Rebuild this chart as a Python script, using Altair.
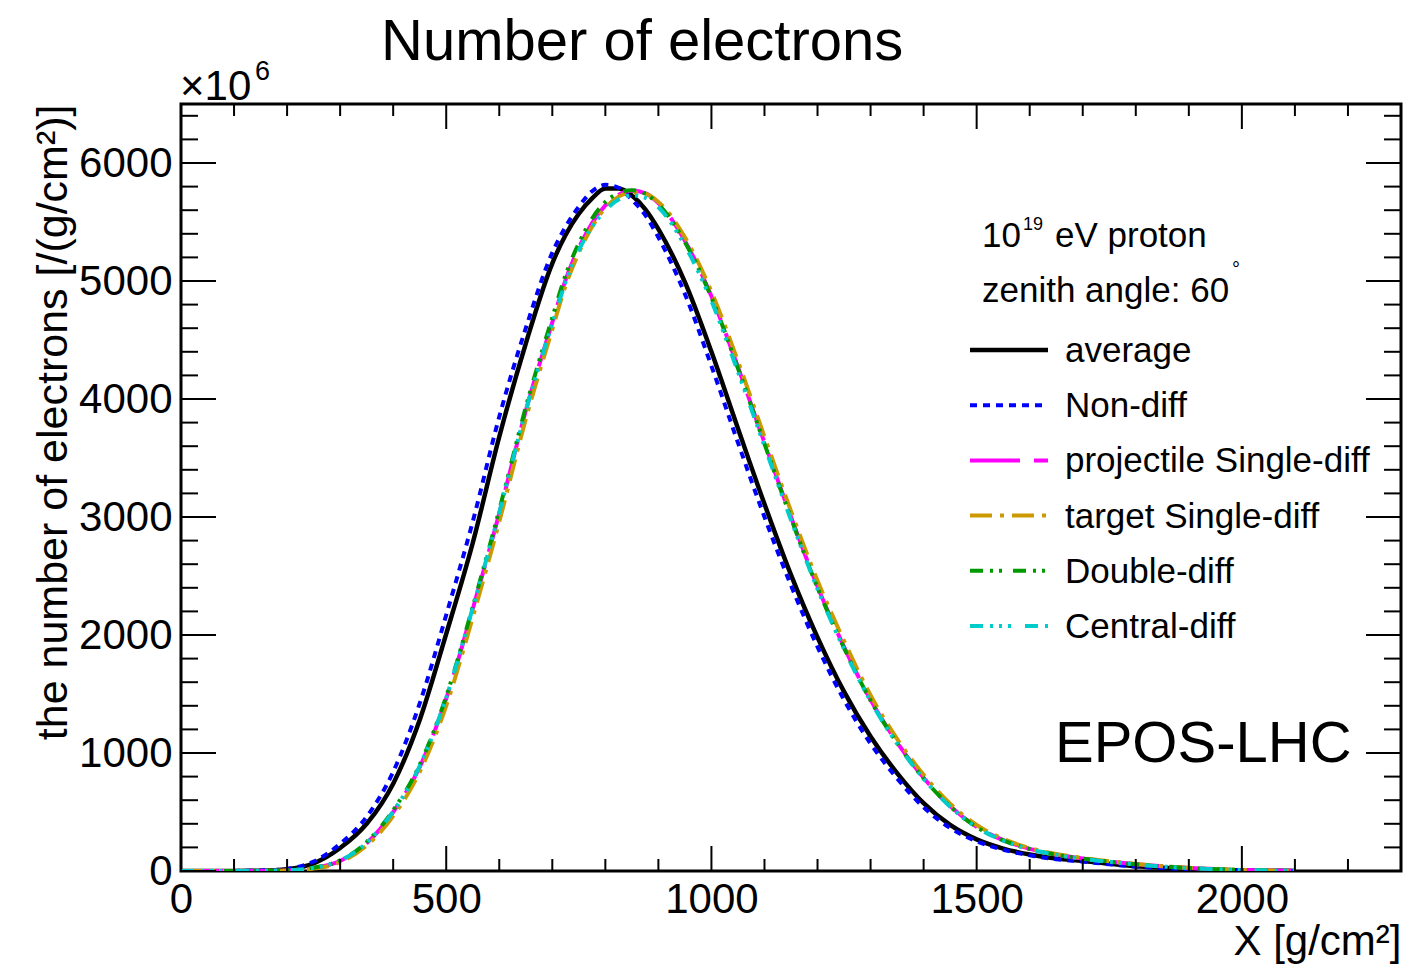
import altair as alt
import pandas as pd

# ---------------- data ----------------
X = [0, 50, 100, 150, 200, 250, 300, 350, 400, 450, 500, 550, 600, 650, 700,
     725, 750, 775, 800, 825, 850, 875, 900,
     950, 1000, 1050, 1100, 1150, 1200, 1250, 1300, 1350, 1400, 1450, 1500, 1550, 1600,
     1650, 1700, 1750, 1800, 1850, 1900, 1950, 2000, 2050, 2100]

AVERAGE = [0, 0, 1, 3, 15, 65, 195, 400, 740, 1280, 2010, 2780, 3680, 4470, 5150,
           5390, 5570, 5700, 5783, 5783, 5725, 5610, 5440,
           4990, 4400, 3750, 3110, 2510, 1980, 1520, 1140, 830, 575, 390, 268, 190, 140,
           105, 85, 62, 40, 27, 17, 10, 6, 3, 1]
NON_DIFF = [0, 0, 1, 4, 18, 80, 230, 460, 840, 1420, 2170, 2960, 3850, 4600, 5240,
            5460, 5630, 5760, 5815, 5790, 5690, 5560, 5370,
            4890, 4280, 3630, 3000, 2420, 1900, 1450, 1080, 785, 540, 365, 252, 180, 133,
            100, 80, 57, 37, 25, 15, 9, 5, 2, 1]
PROJ_SD = [0, 0, 0, 1, 5, 25, 85, 235, 500, 880, 1460, 2220, 3030, 3900, 4650,
           5010, 5280, 5490, 5640, 5730, 5765, 5745, 5660,
           5340, 4870, 4270, 3630, 3000, 2410, 1900, 1450, 1090, 790, 550, 375, 262, 188,
           140, 106, 80, 58, 40, 26, 16, 9, 4, 1]
TARG_SD = [0, 0, 0, 1, 4, 20, 75, 215, 465, 840, 1400, 2150, 2960, 3830, 4590,
           4960, 5240, 5460, 5620, 5715, 5750, 5740, 5670,
           5370, 4910, 4320, 3680, 3050, 2460, 1950, 1490, 1120, 815, 570, 390, 272, 195,
           145, 110, 83, 60, 41, 27, 17, 10, 5, 1]
DOUBLE_D = [0, 0, 0, 1, 6, 28, 90, 245, 515, 900, 1480, 2240, 3060, 3930, 4690,
            5050, 5320, 5530, 5670, 5745, 5770, 5740, 5650,
            5330, 4860, 4260, 3620, 2990, 2400, 1890, 1445, 1085, 785, 548, 372, 260, 186,
            138, 104, 79, 57, 39, 25, 15, 9, 4, 1]
CENTRAL_D = [0, 0, 0, 1, 6, 27, 88, 240, 505, 890, 1470, 2230, 3040, 3900, 4640,
             4990, 5260, 5460, 5600, 5690, 5725, 5705, 5625,
             5300, 4830, 4230, 3600, 2975, 2390, 1880, 1440, 1080, 782, 545, 370, 258, 185,
             137, 103, 78, 56, 38, 25, 15, 9, 4, 1]

LABELS = ["average", "Non-diff", "projectile Single-diff", "target Single-diff",
          "Double-diff", "Central-diff"]
VALUES = [AVERAGE, NON_DIFF, PROJ_SD, TARG_SD, DOUBLE_D, CENTRAL_D]

X_LABELS = [0, 500, 1000, 1500, 2000]
X_MINOR = [100, 200, 300, 400, 600, 700, 800, 900, 1100, 1200, 1300, 1400,
           1600, 1700, 1800, 1900, 2100, 2200]
Y_LABELS = [0, 1000, 2000, 3000, 4000, 5000, 6000]
Y_MINOR = [200, 400, 600, 800, 1200, 1400, 1600, 1800, 2200, 2400, 2600, 2800,
           3200, 3400, 3600, 3800, 4200, 4400, 4600, 4800, 5200, 5400, 5600, 5800,
           6200, 6400]

# ---------------- styles ----------------
COLORS = ["#000000", "#0000ff", "#ff00ff", "#cc9900", "#009900", "#00cccc"]
DASHES = [None, [7, 6], [50, 14], [22, 8, 4, 8], [13, 7, 3, 6, 3, 11],
          [13, 7, 3, 6, 3, 6, 3, 14]]
WIDTHS = [4.5, 4, 4, 4, 4, 4]
FONT = "Liberation Sans"
W, H = 1220, 767

xs = alt.Scale(domain=[0, 2300], nice=False, zero=False)
ys = alt.Scale(domain=[0, 6500], nice=False, zero=False)

X_AXIS = alt.Axis(title="X [g/cm²]", values=X_LABELS, format="d", domain=False,
                  ticks=False, grid=False, labelFont=FONT, labelFontSize=42,
                  labelPadding=8, labelFlush=False, labelOverlap=False, labelColor="black",
                  titleFont=FONT, titleFontSize=42, titleFontWeight="normal",
                  titleColor="black", titleX=W, titleY=83, titleAlign="right",
                  titleBaseline="alphabetic")
Y_AXIS = alt.Axis(title="the number of electrons [/(g/cm²)]", values=Y_LABELS, format="d",
                  domain=False, ticks=False, grid=False, labelFont=FONT, labelFontSize=42,
                  labelPadding=9, labelFlush=False, labelOverlap=False, labelColor="black",
                  titleFont=FONT, titleFontSize=43, titleFontWeight="normal",
                  titleColor="black", titleX=-115, titleY=0, titleAngle=270,
                  titleAlign="right", titleBaseline="alphabetic")


def xenc(f):
    return alt.X(f + ":Q", scale=xs, axis=X_AXIS)


def yenc(f):
    return alt.Y(f + ":Q", scale=ys, axis=Y_AXIS)


layers = []

# curves
for lab, vals, col, dash, wid in zip(LABELS, VALUES, COLORS, DASHES, WIDTHS):
    df = pd.DataFrame({"X": X, "N": vals})
    kw = dict(color=col, strokeWidth=wid, interpolate="monotone", clip=True)
    if dash is not None:
        kw["strokeDash"] = dash
    layers.append(alt.Chart(df).mark_line(**kw).encode(x=xenc("X"), y=yenc("N")))


# inward ticks on all four sides
def xticks(vals, length):
    df = pd.DataFrame({"v": vals})
    bottom = alt.Chart(df).mark_rule(color="black", strokeWidth=2).encode(
        x=xenc("v"), y=alt.value(H), y2=alt.value(H - length))
    top = alt.Chart(df).mark_rule(color="black", strokeWidth=2).encode(
        x=xenc("v"), y=alt.value(0), y2=alt.value(length))
    return [bottom, top]


def yticks(vals, length):
    df = pd.DataFrame({"v": vals})
    left = alt.Chart(df).mark_rule(color="black", strokeWidth=2).encode(
        y=yenc("v"), x=alt.value(0), x2=alt.value(length))
    right = alt.Chart(df).mark_rule(color="black", strokeWidth=2).encode(
        y=yenc("v"), x=alt.value(W), x2=alt.value(W - length))
    return [left, right]


layers += xticks(X_LABELS, 25) + xticks(X_MINOR, 12)
layers += yticks(Y_LABELS, 35) + yticks(Y_MINOR, 17)


def txt(s, x, y, size, align="left", baseline="alphabetic"):
    return alt.Chart(pd.DataFrame({"t": [s]})).mark_text(
        align=align, baseline=baseline, fontSize=size, font=FONT, color="black"
    ).encode(text="t:N", x=alt.value(x), y=alt.value(y))


# legend
LEG_Y0, LEG_DY = 246, 55.2
for i, (lab, col, dash, wid) in enumerate(zip(LABELS, COLORS, DASHES, WIDTHS)):
    yy = LEG_Y0 + i * LEG_DY
    kw = dict(color=col, strokeWidth=wid)
    if dash is not None:
        kw["strokeDash"] = dash
    layers.append(alt.Chart(pd.DataFrame({"t": [lab]})).mark_rule(**kw).encode(
        x=alt.value(789), x2=alt.value(867), y=alt.value(yy)))
    layers.append(txt(lab, 884, yy + 12, 35))

# annotations
layers.append(txt("Number of electrons", 200, -44, 58))
layers.append(txt("×10", -1, -4, 42))
layers.append(txt("6", 74, -24, 27))
layers.append(txt("10", 801, 143, 35))
layers.append(txt("19", 842, 126, 18))
layers.append(txt("eV proton", 874, 143, 35))
layers.append(txt("zenith angle: 60", 801, 198, 35))
layers.append(txt("°", 1055, 172, 20, align="center"))
layers.append(txt("EPOS-LHC", 874, 658, 58))

chart = alt.layer(*layers).properties(
    width=W, height=H,
    autosize=alt.AutoSizeParams(type="none"),
    padding={"left": 173, "top": 96, "right": 2, "bottom": 93},
).configure_view(stroke="black", strokeWidth=3)

chart.save("out.html", embed_options={"renderer": "svg", "actions": False})
